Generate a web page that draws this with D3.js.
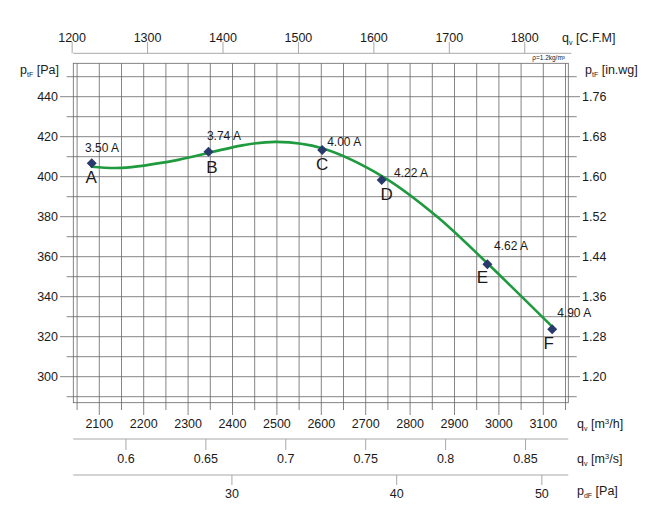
<!DOCTYPE html>
<html><head><meta charset="utf-8">
<script src="https://cdn.jsdelivr.net/npm/d3@7"></script>
<style>
body{margin:0;background:#fff;}
svg text{font-family:"Liberation Sans",Arial,sans-serif;fill:#1a1a1a;}
</style></head>
<body>
<svg id="c" width="662" height="509"></svg>
<script>
// ---- data ----
const pointNames = ["A","B","C","D","E","F"];
const pointFlow = [2083, 2346, 2602, 2736, 2974, 3120];      // m3/h
const pointPressure = [406.7, 412.5, 413.3, 398.3, 356.2, 323.7]; // Pa
const pointCurrent = ["3.50 A","3.74 A","4.00 A","4.22 A","4.62 A","4.90 A"];
const curveFlow = [2083,2150,2275,2425,2500,2602,2741,2861,2974,3120];
const curvePressure = [405.0,404.4,408.3,415.8,417.4,414.2,399.7,380.0,356.7,325.0];
const flowTicks = [2100,2200,2300,2400,2500,2600,2700,2800,2900,3000,3100];
const cfmTicks = [1200,1300,1400,1500,1600,1700,1800];
const m3sTicks = [0.6,0.65,0.7,0.75,0.8,0.85];
const pdTicks = [30,40,50];
const paTicks = [300,320,340,360,380,400,420,440];
const inwgTicks = [1.20,1.28,1.36,1.44,1.52,1.60,1.68,1.76];
const CFM_TO_M3H = 1.699;
const PD_REF_PA = 30, PD_REF_FLOW = 2398.7; // dynamic pressure 30 Pa at 2398.7 m3/h

(function(){
// ---- layout ----
const svg = d3.select("#c");
const frame = {l:73.3, r:568.3, t:63.3, b:402.7};
const x = d3.scaleLinear().domain([2100,3100]).range([99.3,543.3]);
const xCfm = d3.scaleLinear().domain([2100/CFM_TO_M3H, 3100/CFM_TO_M3H]).range(x.range());
const xM3s = d3.scaleLinear().domain([2100/3600, 3100/3600]).range(x.range());
const pdAt = q => PD_REF_PA*Math.pow(q/PD_REF_FLOW,2);
const xPd = d3.scaleSqrt().domain([pdAt(2100), pdAt(3100)]).range(x.range());
const y = d3.scaleLinear().domain([300,440]).range([376.7,96.7]);
const yIn = d3.scaleLinear().domain([1.20,1.76]).range(y.range());

const gridColor = "#666", axisColor = "#a8a8a8";

const g = svg.append("g");
d3.range(290, 451, 10).forEach(v => {
  const major = paTicks.includes(v);
  g.append("line").attr("x1", major?60:66.7).attr("x2", major?580:576.7)
   .attr("y1", y(v)).attr("y2", y(v)).attr("stroke", gridColor).attr("stroke-width",0.8);
});
d3.range(2050, 3151, 50).forEach(v => {
  const major = flowTicks.includes(v);
  g.append("line").attr("x1", x(v)).attr("x2", x(v)).attr("y1", frame.t).attr("y2", major?415:410)
   .attr("stroke", gridColor).attr("stroke-width",0.8);
});
g.append("rect").attr("x",frame.l).attr("y",frame.t).attr("width",frame.r-frame.l).attr("height",frame.b-frame.t)
 .attr("fill","none").attr("stroke",gridColor).attr("stroke-width",0.8);

svg.append("g").selectAll("text").data(paTicks).join("text")
  .attr("x",58).attr("y",d=>y(d)+4.5).attr("text-anchor","end").attr("font-size",12.5).text(d=>d);
svg.append("g").selectAll("text").data(inwgTicks).join("text")
  .attr("x",582).attr("y",d=>yIn(d)+4.5).attr("font-size",12.5).text(d=>d.toFixed(2));
svg.append("g").selectAll("text").data(flowTicks).join("text")
  .attr("x",d=>x(d)).attr("y",427.5).attr("text-anchor","middle").attr("font-size",12.5).text(d=>d);

const topAx = svg.append("g");
topAx.append("line").attr("x1",frame.l).attr("x2",frame.r+3).attr("y1",53.3).attr("y2",53.3).attr("stroke",axisColor);
cfmTicks.forEach(v=>{
  topAx.append("line").attr("x1",xCfm(v)).attr("x2",xCfm(v)).attr("y1",53.3).attr("y2",42).attr("stroke",axisColor);
  topAx.append("text").attr("x",xCfm(v)).attr("y",42).attr("text-anchor","middle").attr("font-size",12.5).text(v);
});

const ax2 = svg.append("g");
ax2.append("line").attr("x1",frame.l).attr("x2",frame.r).attr("y1",439).attr("y2",439).attr("stroke",axisColor);
m3sTicks.forEach(v=>{
  ax2.append("line").attr("x1",xM3s(v)).attr("x2",xM3s(v)).attr("y1",439).attr("y2",450).attr("stroke",axisColor);
  ax2.append("text").attr("x",xM3s(v)).attr("y",463).attr("text-anchor","middle").attr("font-size",12.5).text(v);
});
const ax3 = svg.append("g");
ax3.append("line").attr("x1",frame.l).attr("x2",frame.r).attr("y1",475).attr("y2",475).attr("stroke",axisColor);
pdTicks.forEach(v=>{
  ax3.append("line").attr("x1",xPd(v)).attr("x2",xPd(v)).attr("y1",475).attr("y2",485).attr("stroke",axisColor);
  ax3.append("text").attr("x",xPd(v)).attr("y",498).attr("text-anchor","middle").attr("font-size",12.5).text(v);
});

function title(xp, yp, main, sub, rest, sup, tail){
  const t = svg.append("text").attr("x",xp).attr("y",yp).attr("font-size",12.5);
  t.append("tspan").text(main);
  t.append("tspan").attr("font-size",7).attr("dy",3).text(sub);
  t.append("tspan").attr("dy",-3).text(rest);
  if(sup!==undefined){
    t.append("tspan").attr("font-size",8).attr("dy",-4).text(sup);
    t.append("tspan").attr("dy",4).text(tail);
  }
}
title(20,74,"p","tF"," [Pa]");
title(585,74,"p","tF"," [in.wg]");
title(562,42,"q","v"," [C.F.M]");
title(577,427.5,"q","v"," [m","3","/h]");
title(577,462.5,"q","v"," [m","3","/s]");
title(577,495,"p","dF"," [Pa]");
svg.append("text").attr("x",565).attr("y",60).attr("text-anchor","end").attr("font-size",6.5).text("ρ=1.2kg/m³");

const line = d3.line().x(d=>x(d[0])).y(d=>y(d[1])).curve(d3.curveCatmullRom.alpha(0.5));
svg.append("path").datum(curveFlow.map((q,i)=>[q,curvePressure[i]]))
  .attr("d",line).attr("fill","none").attr("stroke","#1f9a3e").attr("stroke-width",2.6).attr("stroke-linecap","round");

const labelOffsets = [[-6.7,-11.5],[-1.6,-12.2],[5,-4.5],[12.3,-2.8],[6.6,-14.1],[5,-12.1]];
const letterOffsets = [[-0.7,19.5],[3.4,21],[0,20],[5,20],[-5,18.5],[-3.4,20]];
const pts = svg.append("g");
pointFlow.forEach((q,i)=>{
  const px = x(q), py = y(pointPressure[i]);
  pts.append("path").attr("d",`M${px},${py-5}L${px+5},${py}L${px},${py+5}L${px-5},${py}Z`).attr("fill","#283a6c");
  pts.append("text").attr("x",px+labelOffsets[i][0]).attr("y",py+labelOffsets[i][1]).attr("font-size",12).text(pointCurrent[i]);
  pts.append("text").attr("x",px+letterOffsets[i][0]).attr("y",py+letterOffsets[i][1]).attr("text-anchor","middle").attr("font-size",17).text(pointNames[i]);
});
})();
</script>
</body></html>
